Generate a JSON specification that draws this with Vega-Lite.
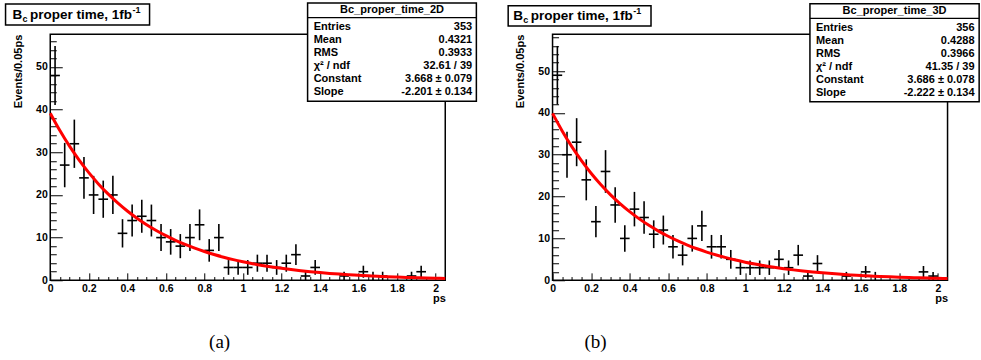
{
  "$schema": "https://vega.github.io/schema/vega-lite/v6.json",
  "autosize": {"type": "pad"},
  "padding": {"left": 3.25, "top": 1.25, "right": 3, "bottom": 5},
  "background": "white",
  "bounds": "flush",
  "spacing": 107.3,
  "config": {
    "view": {"stroke": "#000", "strokeWidth": 1.5},
    "text": {"font": "Liberation Sans", "color": "#000"},
    "axis": {"domain": false, "grid": false, "tickColor": "#000", "tickWidth": 1, "labelFont": "Liberation Sans", "labelFontWeight": "bold", "labelFontSize": 10.5, "labelColor": "#000", "labelOverlap": false, "labelFlush": false, "labelBound": false, "titleFont": "Liberation Sans", "titleFontWeight": "bold", "titleFontSize": 11, "titleColor": "#000"}
  },
  "datasets": {
    "a": [
      {"x":0.025,"x0":0,"x1":0.05,"n":48,"lo":41.07,"hi":54.93},
      {"x":0.075,"x0":0.05,"x1":0.1,"n":27,"lo":21.8,"hi":32.2},
      {"x":0.125,"x0":0.1,"x1":0.15,"n":32,"lo":26.34,"hi":37.66},
      {"x":0.175,"x0":0.15,"x1":0.2,"n":24,"lo":19.1,"hi":28.9},
      {"x":0.225,"x0":0.2,"x1":0.25,"n":20,"lo":15.53,"hi":24.47},
      {"x":0.275,"x0":0.25,"x1":0.3,"n":19,"lo":14.64,"hi":23.36},
      {"x":0.325,"x0":0.3,"x1":0.35,"n":20,"lo":15.53,"hi":24.47},
      {"x":0.375,"x0":0.35,"x1":0.4,"n":11,"lo":7.68,"hi":14.32},
      {"x":0.425,"x0":0.4,"x1":0.45,"n":14,"lo":10.26,"hi":17.74},
      {"x":0.475,"x0":0.45,"x1":0.5,"n":15,"lo":11.13,"hi":18.87},
      {"x":0.525,"x0":0.5,"x1":0.55,"n":14,"lo":10.26,"hi":17.74},
      {"x":0.575,"x0":0.55,"x1":0.6,"n":10,"lo":6.84,"hi":13.16},
      {"x":0.625,"x0":0.6,"x1":0.65,"n":9,"lo":6,"hi":12},
      {"x":0.675,"x0":0.65,"x1":0.7,"n":8,"lo":5.17,"hi":10.83},
      {"x":0.725,"x0":0.7,"x1":0.75,"n":10,"lo":6.84,"hi":13.16},
      {"x":0.775,"x0":0.75,"x1":0.8,"n":13,"lo":9.39,"hi":16.61},
      {"x":0.825,"x0":0.8,"x1":0.85,"n":7,"lo":4.35,"hi":9.65},
      {"x":0.875,"x0":0.85,"x1":0.9,"n":10,"lo":6.84,"hi":13.16},
      {"x":0.925,"x0":0.9,"x1":0.95,"n":3,"lo":1.27,"hi":4.73},
      {"x":0.975,"x0":0.95,"x1":1.0,"n":3,"lo":1.27,"hi":4.73},
      {"x":1.025,"x0":1.0,"x1":1.05,"n":3,"lo":1.27,"hi":4.73},
      {"x":1.075,"x0":1.05,"x1":1.1,"n":4,"lo":2,"hi":6},
      {"x":1.125,"x0":1.1,"x1":1.15,"n":4,"lo":2,"hi":6},
      {"x":1.175,"x0":1.15,"x1":1.2,"n":3,"lo":1.27,"hi":4.73},
      {"x":1.225,"x0":1.2,"x1":1.25,"n":4,"lo":2,"hi":6},
      {"x":1.275,"x0":1.25,"x1":1.3,"n":6,"lo":3.55,"hi":8.45},
      {"x":1.325,"x0":1.3,"x1":1.35,"n":1,"lo":0,"hi":2},
      {"x":1.375,"x0":1.35,"x1":1.4,"n":3,"lo":1.27,"hi":4.73},
      {"x":1.525,"x0":1.5,"x1":1.55,"n":1,"lo":0,"hi":2},
      {"x":1.625,"x0":1.6,"x1":1.65,"n":2,"lo":0.59,"hi":3.41},
      {"x":1.675,"x0":1.65,"x1":1.7,"n":1,"lo":0,"hi":2},
      {"x":1.725,"x0":1.7,"x1":1.75,"n":1,"lo":0,"hi":2},
      {"x":1.875,"x0":1.85,"x1":1.9,"n":1,"lo":0,"hi":2},
      {"x":1.925,"x0":1.9,"x1":1.95,"n":2,"lo":0.59,"hi":3.41}
    ],
    "b": [
      {"x":0.025,"x0":0,"x1":0.05,"n":49,"lo":42,"hi":56},
      {"x":0.075,"x0":0.05,"x1":0.1,"n":30,"lo":24.52,"hi":35.48},
      {"x":0.125,"x0":0.1,"x1":0.15,"n":33,"lo":27.26,"hi":38.74},
      {"x":0.175,"x0":0.15,"x1":0.2,"n":24,"lo":19.1,"hi":28.9},
      {"x":0.225,"x0":0.2,"x1":0.25,"n":14,"lo":10.26,"hi":17.74},
      {"x":0.275,"x0":0.25,"x1":0.3,"n":26,"lo":20.9,"hi":31.1},
      {"x":0.325,"x0":0.3,"x1":0.35,"n":18,"lo":13.76,"hi":22.24},
      {"x":0.375,"x0":0.35,"x1":0.4,"n":10,"lo":6.84,"hi":13.16},
      {"x":0.425,"x0":0.4,"x1":0.45,"n":17,"lo":12.88,"hi":21.12},
      {"x":0.475,"x0":0.45,"x1":0.5,"n":15,"lo":11.13,"hi":18.87},
      {"x":0.525,"x0":0.5,"x1":0.55,"n":11,"lo":7.68,"hi":14.32},
      {"x":0.575,"x0":0.55,"x1":0.6,"n":12,"lo":8.54,"hi":15.46},
      {"x":0.625,"x0":0.6,"x1":0.65,"n":8,"lo":5.17,"hi":10.83},
      {"x":0.675,"x0":0.65,"x1":0.7,"n":6,"lo":3.55,"hi":8.45},
      {"x":0.725,"x0":0.7,"x1":0.75,"n":10,"lo":6.84,"hi":13.16},
      {"x":0.775,"x0":0.75,"x1":0.8,"n":13,"lo":9.39,"hi":16.61},
      {"x":0.825,"x0":0.8,"x1":0.85,"n":8,"lo":5.17,"hi":10.83},
      {"x":0.875,"x0":0.85,"x1":0.9,"n":8,"lo":5.17,"hi":10.83},
      {"x":0.925,"x0":0.9,"x1":0.95,"n":5,"lo":2.76,"hi":7.24},
      {"x":0.975,"x0":0.95,"x1":1.0,"n":3,"lo":1.27,"hi":4.73},
      {"x":1.025,"x0":1.0,"x1":1.05,"n":3,"lo":1.27,"hi":4.73},
      {"x":1.075,"x0":1.05,"x1":1.1,"n":3,"lo":1.27,"hi":4.73},
      {"x":1.125,"x0":1.1,"x1":1.15,"n":3,"lo":1.27,"hi":4.73},
      {"x":1.175,"x0":1.15,"x1":1.2,"n":5,"lo":2.76,"hi":7.24},
      {"x":1.225,"x0":1.2,"x1":1.25,"n":3,"lo":1.27,"hi":4.73},
      {"x":1.275,"x0":1.25,"x1":1.3,"n":6,"lo":3.55,"hi":8.45},
      {"x":1.325,"x0":1.3,"x1":1.35,"n":1,"lo":0,"hi":2},
      {"x":1.375,"x0":1.35,"x1":1.4,"n":4,"lo":2,"hi":6},
      {"x":1.525,"x0":1.5,"x1":1.55,"n":1,"lo":0,"hi":2},
      {"x":1.625,"x0":1.6,"x1":1.65,"n":2,"lo":0.59,"hi":3.41},
      {"x":1.675,"x0":1.65,"x1":1.7,"n":1,"lo":0,"hi":2},
      {"x":1.925,"x0":1.9,"x1":1.95,"n":2,"lo":0.59,"hi":3.41},
      {"x":1.975,"x0":1.95,"x1":2.0,"n":1,"lo":0,"hi":2}
    ],
    "fa": [
      {"x":0,"y":39.17},{"x":0.05,"y":35.09},{"x":0.1,"y":31.43},{"x":0.15,"y":28.16},{"x":0.2,"y":25.22},{"x":0.25,"y":22.59},{"x":0.3,"y":20.24},{"x":0.35,"y":18.13},{"x":0.4,"y":16.24},{"x":0.45,"y":14.55},{"x":0.5,"y":13.03},{"x":0.55,"y":11.67},{"x":0.6,"y":10.46},{"x":0.65,"y":9.37},{"x":0.7,"y":8.39},{"x":0.75,"y":7.52},{"x":0.8,"y":6.73},{"x":0.85,"y":6.03},{"x":0.9,"y":5.4},{"x":0.95,"y":4.84},{"x":1.0,"y":4.34},{"x":1.05,"y":3.88},{"x":1.1,"y":3.48},{"x":1.15,"y":3.12},{"x":1.2,"y":2.79},{"x":1.25,"y":2.5},{"x":1.3,"y":2.24},{"x":1.35,"y":2.01},{"x":1.4,"y":1.8},{"x":1.45,"y":1.61},{"x":1.5,"y":1.44},{"x":1.55,"y":1.29},{"x":1.6,"y":1.16},{"x":1.65,"y":1.04},{"x":1.7,"y":0.93},{"x":1.75,"y":0.83},{"x":1.8,"y":0.75},{"x":1.85,"y":0.67},{"x":1.9,"y":0.6},{"x":1.95,"y":0.54},{"x":2.0,"y":0.48},{"x":2.05,"y":0.43}
    ],
    "fb": [
      {"x":0,"y":39.88},{"x":0.05,"y":35.69},{"x":0.1,"y":31.93},{"x":0.15,"y":28.58},{"x":0.2,"y":25.57},{"x":0.25,"y":22.88},{"x":0.3,"y":20.48},{"x":0.35,"y":18.32},{"x":0.4,"y":16.4},{"x":0.45,"y":14.67},{"x":0.5,"y":13.13},{"x":0.55,"y":11.75},{"x":0.6,"y":10.51},{"x":0.65,"y":9.41},{"x":0.7,"y":8.42},{"x":0.75,"y":7.53},{"x":0.8,"y":6.74},{"x":0.85,"y":6.03},{"x":0.9,"y":5.4},{"x":0.95,"y":4.83},{"x":1.0,"y":4.32},{"x":1.05,"y":3.87},{"x":1.1,"y":3.46},{"x":1.15,"y":3.1},{"x":1.2,"y":2.77},{"x":1.25,"y":2.48},{"x":1.3,"y":2.22},{"x":1.35,"y":1.99},{"x":1.4,"y":1.78},{"x":1.45,"y":1.59},{"x":1.5,"y":1.42},{"x":1.55,"y":1.27},{"x":1.6,"y":1.14},{"x":1.65,"y":1.02},{"x":1.7,"y":0.91},{"x":1.75,"y":0.82},{"x":1.8,"y":0.73},{"x":1.85,"y":0.65},{"x":1.9,"y":0.59},{"x":1.95,"y":0.52},{"x":2.0,"y":0.47},{"x":2.05,"y":0.42}
    ]
  },
  "hconcat": [
    {
      "width": 395, "height": 246,
      "resolve": {"axis": {"x": "independent", "y": "independent"}},
      "layer": [
        {"data": {"name": "a"}, "mark": {"type": "rule", "color": "#000", "strokeWidth": 1.6},
          "encoding": {
            "x": {"field": "x0", "type": "quantitative", "scale": {"domain": [0, 2.05], "nice": false, "zero": false},
              "axis": {"orient": "bottom", "title": "ps", "titleX": 395, "titleY": 18.5, "titleAlign": "right", "titleBaseline": "middle",
                "values": [0,0.2,0.4,0.6,0.8,1,1.2,1.4,1.6,1.8,2], "format": "~g", "labelPadding": 10.5, "tickSize": -7.4}},
            "x2": {"field": "x1"},
            "y": {"field": "n", "type": "quantitative", "scale": {"domain": [0, 57.67], "nice": false, "zero": false},
              "axis": {"orient": "left", "title": "Events/0.05ps", "titleAngle": 270, "titleAlign": "right", "titleBaseline": "middle", "titleX": -32, "titleY": 0,
                "values": [0,10,20,30,40,50], "labelPadding": 15, "tickSize": -12}}
          }},
        {"data": {"name": "a"}, "mark": {"type": "rule", "color": "#000", "strokeWidth": 1.6},
          "encoding": {
            "x": {"field": "x", "type": "quantitative",
              "axis": {"orient": "bottom", "title": null, "labels": false, "tickSize": -3.7,
                "values": [0.05,0.1,0.15,0.25,0.3,0.35,0.45,0.5,0.55,0.65,0.7,0.75,0.85,0.9,0.95,1.05,1.1,1.15,1.25,1.3,1.35,1.45,1.5,1.55,1.65,1.7,1.75,1.85,1.9,1.95]}},
            "y": {"field": "lo", "type": "quantitative",
              "axis": {"orient": "left", "title": null, "labels": false, "tickSize": -6,
                "values": [2,4,6,8,12,14,16,18,22,24,26,28,32,34,36,38,42,44,46,48,52,54,56]}},
            "y2": {"field": "hi"}}},
        {"data": {"name": "fa"}, "mark": {"type": "line", "color": "#ff0000", "strokeWidth": 3, "interpolate": "monotone"},
          "encoding": {"x": {"field": "x", "type": "quantitative", "axis": null}, "y": {"field": "y", "type": "quantitative", "axis": null}}},
        {"data": {"values": [{}]}, "mark": {"type": "rect", "fill": "white", "stroke": "#000", "strokeWidth": 1.5},
          "encoding": {"x": {"datum": -0.232, "type": "quantitative", "axis": null}, "x2": {"datum": 0.5154}, "y": {"datum": 64.78, "type": "quantitative", "axis": null}, "y2": {"datum": 59.84}}},
        {"data": {"values": [{}]}, "mark": {"type": "text", "text": "B", "fontWeight": "bold", "fontSize": 13.5, "align": "left", "baseline": "alphabetic"},
          "encoding": {"x": {"datum": -0.1957, "type": "quantitative", "axis": null}, "y": {"datum": 61.18, "type": "quantitative", "axis": null}}},
        {"data": {"values": [{}]}, "mark": {"type": "text", "text": "c", "fontWeight": "bold", "fontSize": 9, "align": "left", "baseline": "alphabetic", "dx": 10, "dy": 3},
          "encoding": {"x": {"datum": -0.1957, "type": "quantitative", "axis": null}, "y": {"datum": 61.18, "type": "quantitative", "axis": null}}},
        {"data": {"values": [{}]}, "mark": {"type": "text", "text": "proper time, 1fb", "fontWeight": "bold", "fontSize": 13.5, "align": "left", "baseline": "alphabetic", "dx": 17.5},
          "encoding": {"x": {"datum": -0.1957, "type": "quantitative", "axis": null}, "y": {"datum": 61.18, "type": "quantitative", "axis": null}}},
        {"data": {"values": [{}]}, "mark": {"type": "text", "text": "-1", "fontWeight": "bold", "fontSize": 9, "align": "left", "baseline": "alphabetic", "dx": 120, "dy": -6},
          "encoding": {"x": {"datum": -0.1957, "type": "quantitative", "axis": null}, "y": {"datum": 61.18, "type": "quantitative", "axis": null}}},
        {"data": {"values": [{}]}, "mark": {"type": "rect", "fill": "white", "stroke": "#000", "strokeWidth": 1.5},
          "encoding": {"x": {"datum": 1.3356, "type": "quantitative", "axis": null}, "x2": {"datum": 2.2115}, "y": {"datum": 65.01, "type": "quantitative", "axis": null}, "y2": {"datum": 41.95}}},
        {"data": {"values": [{}]}, "mark": {"type": "rule", "color": "#000", "strokeWidth": 1.2},
          "encoding": {"x": {"datum": 1.3356, "type": "quantitative", "axis": null}, "x2": {"datum": 2.2115}, "y": {"datum": 61.55, "type": "quantitative", "axis": null}}},
        {"data": {"values": [{}]}, "mark": {"type": "text", "text": "Bc_proper_time_2D", "fontWeight": "bold", "fontSize": 11, "align": "center", "baseline": "middle"},
          "encoding": {"x": {"datum": 1.7736, "type": "quantitative", "axis": null}, "y": {"datum": 63.25, "type": "quantitative", "axis": null}}},
        {"data": {"values": [{}]}, "mark": {"type": "text", "text": ["Entries", "Mean", "RMS", "χ² / ndf", "Constant", "Slope"], "fontWeight": "bold", "fontSize": 11, "lineHeight": 12.9, "align": "left", "baseline": "top"},
          "encoding": {"x": {"datum": 1.367, "type": "quantitative", "axis": null}, "y": {"datum": 60.66, "type": "quantitative", "axis": null}}},
        {"data": {"values": [{}]}, "mark": {"type": "text", "text": ["353", "0.4321", "0.3933", "32.61 / 39", "3.668 ± 0.079", "-2.201 ± 0.134"], "fontWeight": "bold", "fontSize": 11, "lineHeight": 12.9, "align": "right", "baseline": "top"},
          "encoding": {"x": {"datum": 2.19, "type": "quantitative", "axis": null}, "y": {"datum": 60.66, "type": "quantitative", "axis": null}}},
        {"data": {"values": [{}]}, "mark": {"type": "text", "text": "(a)", "font": "Liberation Serif", "fontSize": 19, "align": "center", "baseline": "middle"},
          "encoding": {"x": {"datum": 0.879, "type": "quantitative", "axis": null}, "y": {"datum": -14.52, "type": "quantitative", "axis": null}}}
      ]
    },
    {
      "width": 395, "height": 246,
      "resolve": {"axis": {"x": "independent", "y": "independent"}},
      "layer": [
        {"data": {"name": "b"}, "mark": {"type": "rule", "color": "#000", "strokeWidth": 1.6},
          "encoding": {
            "x": {"field": "x0", "type": "quantitative", "scale": {"domain": [0, 2.05], "nice": false, "zero": false},
              "axis": {"orient": "bottom", "title": "ps", "titleX": 395, "titleY": 18.5, "titleAlign": "right", "titleBaseline": "middle",
                "values": [0,0.2,0.4,0.6,0.8,1,1.2,1.4,1.6,1.8,2], "format": "~g", "labelPadding": 10.5, "tickSize": -7.4}},
            "x2": {"field": "x1"},
            "y": {"field": "n", "type": "quantitative", "scale": {"domain": [0, 58.8], "nice": false, "zero": false},
              "axis": {"orient": "left", "title": "Events/0.05ps", "titleAngle": 270, "titleAlign": "right", "titleBaseline": "middle", "titleX": -32, "titleY": 0,
                "values": [0,10,20,30,40,50], "labelPadding": 15, "tickSize": -12}}
          }},
        {"data": {"name": "b"}, "mark": {"type": "rule", "color": "#000", "strokeWidth": 1.6},
          "encoding": {
            "x": {"field": "x", "type": "quantitative",
              "axis": {"orient": "bottom", "title": null, "labels": false, "tickSize": -3.7,
                "values": [0.05,0.1,0.15,0.25,0.3,0.35,0.45,0.5,0.55,0.65,0.7,0.75,0.85,0.9,0.95,1.05,1.1,1.15,1.25,1.3,1.35,1.45,1.5,1.55,1.65,1.7,1.75,1.85,1.9,1.95]}},
            "y": {"field": "lo", "type": "quantitative",
              "axis": {"orient": "left", "title": null, "labels": false, "tickSize": -6,
                "values": [2,4,6,8,12,14,16,18,22,24,26,28,32,34,36,38,42,44,46,48,52,54,56,58]}},
            "y2": {"field": "hi"}}},
        {"data": {"name": "fb"}, "mark": {"type": "line", "color": "#ff0000", "strokeWidth": 3, "interpolate": "monotone"},
          "encoding": {"x": {"field": "x", "type": "quantitative", "axis": null}, "y": {"field": "y", "type": "quantitative", "axis": null}}},
        {"data": {"values": [{}]}, "mark": {"type": "rect", "fill": "white", "stroke": "#000", "strokeWidth": 1.5},
          "encoding": {"x": {"datum": -0.2303, "type": "quantitative", "axis": null}, "x2": {"datum": 0.511}, "y": {"datum": 65.62, "type": "quantitative", "axis": null}, "y2": {"datum": 60.77}}},
        {"data": {"values": [{}]}, "mark": {"type": "text", "text": "B", "fontWeight": "bold", "fontSize": 13.5, "align": "left", "baseline": "alphabetic"},
          "encoding": {"x": {"datum": -0.2043, "type": "quantitative", "axis": null}, "y": {"datum": 62.2, "type": "quantitative", "axis": null}}},
        {"data": {"values": [{}]}, "mark": {"type": "text", "text": "c", "fontWeight": "bold", "fontSize": 9, "align": "left", "baseline": "alphabetic", "dx": 10, "dy": 3},
          "encoding": {"x": {"datum": -0.2043, "type": "quantitative", "axis": null}, "y": {"datum": 62.2, "type": "quantitative", "axis": null}}},
        {"data": {"values": [{}]}, "mark": {"type": "text", "text": "proper time, 1fb", "fontWeight": "bold", "fontSize": 13.5, "align": "left", "baseline": "alphabetic", "dx": 17.5},
          "encoding": {"x": {"datum": -0.2043, "type": "quantitative", "axis": null}, "y": {"datum": 62.2, "type": "quantitative", "axis": null}}},
        {"data": {"values": [{}]}, "mark": {"type": "text", "text": "-1", "fontWeight": "bold", "fontSize": 9, "align": "left", "baseline": "alphabetic", "dx": 120, "dy": -6},
          "encoding": {"x": {"datum": -0.2043, "type": "quantitative", "axis": null}, "y": {"datum": 62.2, "type": "quantitative", "axis": null}}},
        {"data": {"values": [{}]}, "mark": {"type": "rect", "fill": "white", "stroke": "#000", "strokeWidth": 1.5},
          "encoding": {"x": {"datum": 1.3358, "type": "quantitative", "axis": null}, "x2": {"datum": 2.214}, "y": {"datum": 66.1, "type": "quantitative", "axis": null}, "y2": {"datum": 42.65}}},
        {"data": {"values": [{}]}, "mark": {"type": "rule", "color": "#000", "strokeWidth": 1.2},
          "encoding": {"x": {"datum": 1.3358, "type": "quantitative", "axis": null}, "x2": {"datum": 2.214}, "y": {"datum": 62.58, "type": "quantitative", "axis": null}}},
        {"data": {"values": [{}]}, "mark": {"type": "text", "text": "Bc_proper_time_3D", "fontWeight": "bold", "fontSize": 11, "align": "center", "baseline": "middle"},
          "encoding": {"x": {"datum": 1.775, "type": "quantitative", "axis": null}, "y": {"datum": 64.31, "type": "quantitative", "axis": null}}},
        {"data": {"values": [{}]}, "mark": {"type": "text", "text": ["Entries", "Mean", "RMS", "χ² / ndf", "Constant", "Slope"], "fontWeight": "bold", "fontSize": 11, "lineHeight": 12.9, "align": "left", "baseline": "top"},
          "encoding": {"x": {"datum": 1.367, "type": "quantitative", "axis": null}, "y": {"datum": 61.67, "type": "quantitative", "axis": null}}},
        {"data": {"values": [{}]}, "mark": {"type": "text", "text": ["356", "0.4288", "0.3966", "41.35 / 39", "3.686 ± 0.078", "-2.222 ± 0.134"], "fontWeight": "bold", "fontSize": 11, "lineHeight": 12.9, "align": "right", "baseline": "top"},
          "encoding": {"x": {"datum": 2.19, "type": "quantitative", "axis": null}, "y": {"datum": 61.67, "type": "quantitative", "axis": null}}},
        {"data": {"values": [{}]}, "mark": {"type": "text", "text": "(b)", "font": "Liberation Serif", "fontSize": 19, "align": "center", "baseline": "middle"},
          "encoding": {"x": {"datum": 0.2235, "type": "quantitative", "axis": null}, "y": {"datum": -14.76, "type": "quantitative", "axis": null}}}
      ]
    }
  ]
}
